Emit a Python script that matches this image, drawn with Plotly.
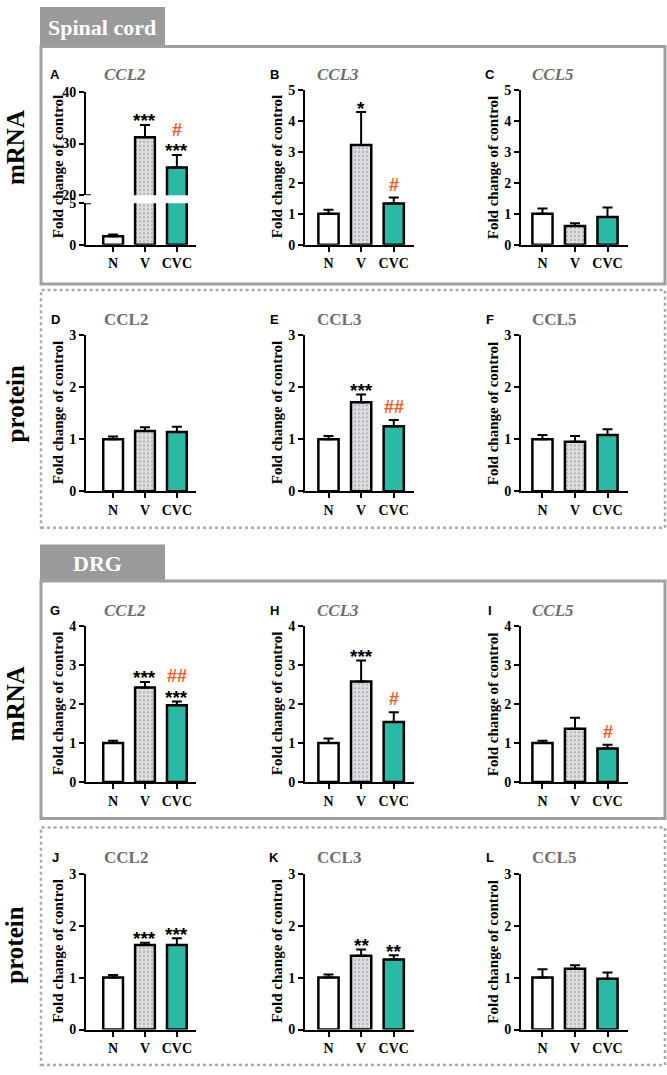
import plotly.graph_objects as go

W, H = 667, 1075

# ---------------- data ----------------
groups = ["N", "V", "CVC"]
panel_letters = ["A", "B", "C", "D", "E", "F", "G", "H", "I", "J", "K", "L"]
panel_genes = ["CCL2", "CCL3", "CCL5"] * 4
row_labels = ["mRNA", "protein", "mRNA", "protein"]
section_labels = ["Spinal cord", "DRG"]

# Spinal cord mRNA
sc_mrna_ccl2 = [1.0, 31.2, 25.4]
sc_mrna_ccl2_err = [0.22, 2.4, 2.4]
sc_mrna_ccl3 = [1.0, 3.22, 1.33]
sc_mrna_ccl3_err = [0.13, 1.06, 0.19]
sc_mrna_ccl5 = [1.0, 0.60, 0.89]
sc_mrna_ccl5_err = [0.17, 0.09, 0.31]
# Spinal cord protein
sc_prot_ccl2 = [1.0, 1.16, 1.14]
sc_prot_ccl2_err = [0.05, 0.07, 0.10]
sc_prot_ccl3 = [1.0, 1.71, 1.25]
sc_prot_ccl3_err = [0.06, 0.15, 0.12]
sc_prot_ccl5 = [1.0, 0.95, 1.08]
sc_prot_ccl5_err = [0.08, 0.11, 0.11]
# DRG mRNA
drg_mrna_ccl2 = [1.0, 2.43, 1.97]
drg_mrna_ccl2_err = [0.06, 0.14, 0.10]
drg_mrna_ccl3 = [1.0, 2.58, 1.54]
drg_mrna_ccl3_err = [0.12, 0.54, 0.25]
drg_mrna_ccl5 = [1.0, 1.37, 0.86]
drg_mrna_ccl5_err = [0.06, 0.28, 0.10]
# DRG protein
drg_prot_ccl2 = [1.0, 1.63, 1.63]
drg_prot_ccl2_err = [0.05, 0.04, 0.13]
drg_prot_ccl3 = [1.0, 1.42, 1.35]
drg_prot_ccl3_err = [0.06, 0.12, 0.08]
drg_prot_ccl5 = [1.0, 1.17, 0.98]
drg_prot_ccl5_err = [0.16, 0.07, 0.12]

# significance marks (vs N: stars, vs V: hashes)
stars = [["", "***", "***"], ["", "*", ""], ["", "", ""],
         ["", "", ""], ["", "***", ""], ["", "", ""],
         ["", "***", "***"], ["", "***", ""], ["", "", ""],
         ["", "***", "***"], ["", "**", "**"], ["", "", ""]]
hashes = [["", "", "#"], ["", "", "#"], ["", "", ""],
          ["", "", ""], ["", "", "##"], ["", "", ""],
          ["", "", "##"], ["", "", "#"], ["", "", "#"],
          ["", "", ""], ["", "", ""], ["", "", ""]]

y_max = [5, 5, 5, 3, 3, 3, 4, 4, 4, 3, 3, 3]
a_lower_range = [0, 5]
a_lower_ticks = [0, 5]
a_upper_range = [20, 40]
a_upper_ticks = [20, 30, 40]

means = [sc_mrna_ccl2, sc_mrna_ccl3, sc_mrna_ccl5,
         sc_prot_ccl2, sc_prot_ccl3, sc_prot_ccl5,
         drg_mrna_ccl2, drg_mrna_ccl3, drg_mrna_ccl5,
         drg_prot_ccl2, drg_prot_ccl3, drg_prot_ccl5]
errs = [sc_mrna_ccl2_err, sc_mrna_ccl3_err, sc_mrna_ccl5_err,
        sc_prot_ccl2_err, sc_prot_ccl3_err, sc_prot_ccl5_err,
        drg_mrna_ccl2_err, drg_mrna_ccl3_err, drg_mrna_ccl5_err,
        drg_prot_ccl2_err, drg_prot_ccl3_err, drg_prot_ccl5_err]

# ---------------- style / layout ----------------
SERIF = "Liberation Serif"
SANS = "Liberation Sans"
bar_colors = ["#ffffff", "#dcdde0", "#2bb8a5"]
bar_patterns = ["", ".", ""]
hash_color = "#f25a24"
title_gray = "#6e6e6e"
frame_gray = "#a0a0a0"

col_px = [(86, 196), (305, 414), (521, 628)]
col_xrange = [[-0.85, 2.6], [-0.72, 2.62], [-0.66, 2.63]]
title_off = [16, 10, 9]
row_px = [(84, 241), (333, 491), (628, 786), (879, 1037)]
a_upper_px = (86, 191)
a_lower_px = (199, 241)


def xd(px):
    return px / W


def yd(px):
    return 1 - px / H


fig = go.Figure()
layout = dict(width=W, height=H, margin=dict(l=0, r=0, t=0, b=0),
              plot_bgcolor="white", paper_bgcolor="white", showlegend=False,
              bargap=0)
annotations = []
shapes = []

tickfont = dict(family=SERIF, size=14, color="black", weight="bold")


def yaxis_dict(domain_px, rng, ticks, anchor):
    return dict(domain=[yd(domain_px[1]), yd(domain_px[0])], range=rng, tickvals=ticks,
                anchor=anchor, showline=True, linecolor="black", linewidth=2,
                ticks="outside", ticklen=5, tickwidth=2, tickcolor="black",
                tickfont=tickfont, showgrid=False, zeroline=False, fixedrange=True)


def bar_trace(i, xa, ya):
    return go.Bar(
        x=groups, y=means[i], width=0.62, xaxis=xa, yaxis=ya,
        marker=dict(color=bar_colors, line=dict(color="black", width=2.5),
                    pattern=dict(shape=bar_patterns, fgcolor="#a8a8a8", size=4,
                                 solidity=0.15, fillmode="overlay")),
        error_y=dict(type="data", symmetric=False, array=errs[i],
                     arrayminus=[0, 0, 0], color="black", thickness=2, width=5),
        hoverinfo="skip")


for i in range(12):
    r, c = divmod(i, 3)
    n = i + 1
    xa = "x" if n == 1 else f"x{n}"
    ya = "y" if n == 1 else f"y{n}"
    xkey = "xaxis" if n == 1 else f"xaxis{n}"
    ykey = "yaxis" if n == 1 else f"yaxis{n}"
    x0, x1 = col_px[c]
    top, bot = row_px[r]

    layout[xkey] = dict(domain=[xd(x0), xd(x1)], range=col_xrange[c], type="category",
                        categoryarray=groups, anchor=ya, showline=True, linecolor="black",
                        linewidth=2, ticks="outside", ticklen=5, tickwidth=2,
                        tickcolor="black",
                        tickfont=dict(family=SERIF, size=14, color="black", weight="bold"),
                        showgrid=False, zeroline=False, fixedrange=True)
    if i == 0:
        layout[ykey] = yaxis_dict(a_lower_px, a_lower_range, a_lower_ticks, xa)
        layout["yaxis13"] = yaxis_dict(a_upper_px, a_upper_range, a_upper_ticks, xa)
        fig.add_trace(bar_trace(i, xa, ya))
        fig.add_trace(bar_trace(i, xa, "y13"))
        # break marks
        shapes.append(dict(type="line", xref="x domain", yref="y13", x0=0, x1=0.045,
                           y0=a_upper_range[0], y1=a_upper_range[0],
                           line=dict(color="black", width=2)))
        shapes.append(dict(type="line", xref="x domain", yref="y", x0=0, x1=0.045,
                           y0=a_lower_range[1], y1=a_lower_range[1],
                           line=dict(color="black", width=2)))
    else:
        layout[ykey] = yaxis_dict((top, bot), [0, y_max[i]], list(range(0, y_max[i] + 1)), xa)
        fig.add_trace(bar_trace(i, xa, ya))

    # y-axis title
    annotations.append(dict(text="Fold change of control", x=xd(x0 - 28), y=yd((top + bot) / 2),
                            xref="paper", yref="paper", textangle=-90, showarrow=False,
                            xanchor="center", yanchor="middle",
                            font=dict(family=SERIF, size=15, color="black", weight="bold")))
    # panel letter
    annotations.append(dict(text=panel_letters[i], x=xd(x0 - 31), y=yd(top - 16),
                            xref="paper", yref="paper", showarrow=False,
                            xanchor="center", yanchor="middle",
                            font=dict(family=SANS, size=13, color="black", weight="bold")))
    # gene title
    italic = (r % 2 == 0)
    annotations.append(dict(text=panel_genes[i], x=xd(x0 + title_off[c]), y=yd(top - 16),
                            xref="paper", yref="paper", showarrow=False,
                            xanchor="left", yanchor="middle",
                            font=dict(family=SERIF, size=17, color=title_gray, weight="bold",
                                      style="italic" if italic else "normal")))
    # significance marks
    for g in range(3):
        yref = ya
        if i == 0 and means[i][g] > a_upper_range[0]:
            yref = "y13"
        ytop = means[i][g] + errs[i][g]
        s = stars[i][g]
        h = hashes[i][g]
        if s:
            annotations.append(dict(text=s, x=groups[g], y=ytop, xref=xa, yref=yref,
                                    showarrow=False, yanchor="middle", yshift=4,
                                    font=dict(family=SANS, size=19, color="black", weight="bold")))
        if h:
            annotations.append(dict(text=h, x=groups[g], y=ytop, xref=xa, yref=yref,
                                    showarrow=False, yanchor="middle",
                                    yshift=25 if s else 13,
                                    font=dict(family=SANS, size=18, color=hash_color, weight="bold")))

# row labels
row_label_y = [143, 403, 707, 952]
for lab, ypx in zip(row_labels, row_label_y):
    annotations.append(dict(text=lab, x=xd(15), y=yd(ypx), xref="paper", yref="paper",
                            textangle=-90, showarrow=False, xanchor="center", yanchor="middle",
                            font=dict(family=SERIF, size=25, color="black", weight="bold")))

# section headers and frames
header_boxes = [(0, 40), (545, 582)]
header_text_x = [102, 97]
for lab, (t, b), tx in zip(section_labels, header_boxes, header_text_x):
    shapes.append(dict(type="rect", xref="paper", yref="paper", x0=xd(40), x1=xd(165),
                       y0=yd(b), y1=yd(t), fillcolor="#9a9a9a", line=dict(width=0), layer="below"))
    annotations.append(dict(text=lab, x=xd(tx), y=yd((t + b) / 2 + 1), xref="paper", yref="paper",
                            showarrow=False, xanchor="center", yanchor="middle",
                            font=dict(family=SERIF, size=22, color="white", weight="bold")))

solid_frames = [(40, 281), (582, 823)]
dotted_frames = [(287, 528), (832, 1073)]
for t, b in solid_frames:
    shapes.append(dict(type="rect", xref="paper", yref="paper", x0=xd(41), x1=xd(665),
                       y0=yd(b), y1=yd(t), line=dict(color=frame_gray, width=3), layer="below"))
for t, b in dotted_frames:
    shapes.append(dict(type="rect", xref="paper", yref="paper", x0=xd(41), x1=xd(665),
                       y0=yd(b), y1=yd(t), line=dict(color="#ababab", width=2.5, dash="dot"),
                       layer="below"))

layout["annotations"] = annotations
layout["shapes"] = shapes
fig.update_layout(**layout)
fig.write_html(
    "out.html",
    config={"displayModeBar": False, "staticPlot": True},
    post_script=("document.documentElement.style.margin='0';"
                 "document.body.style.margin='0';document.body.style.overflow='hidden';"
                 "var gd=document.getElementById('{plot_id}');"
                 "gd.style.position='fixed';gd.style.top='0px';gd.style.left='0px';"
                 "window.scrollTo(0,0);"),
)
